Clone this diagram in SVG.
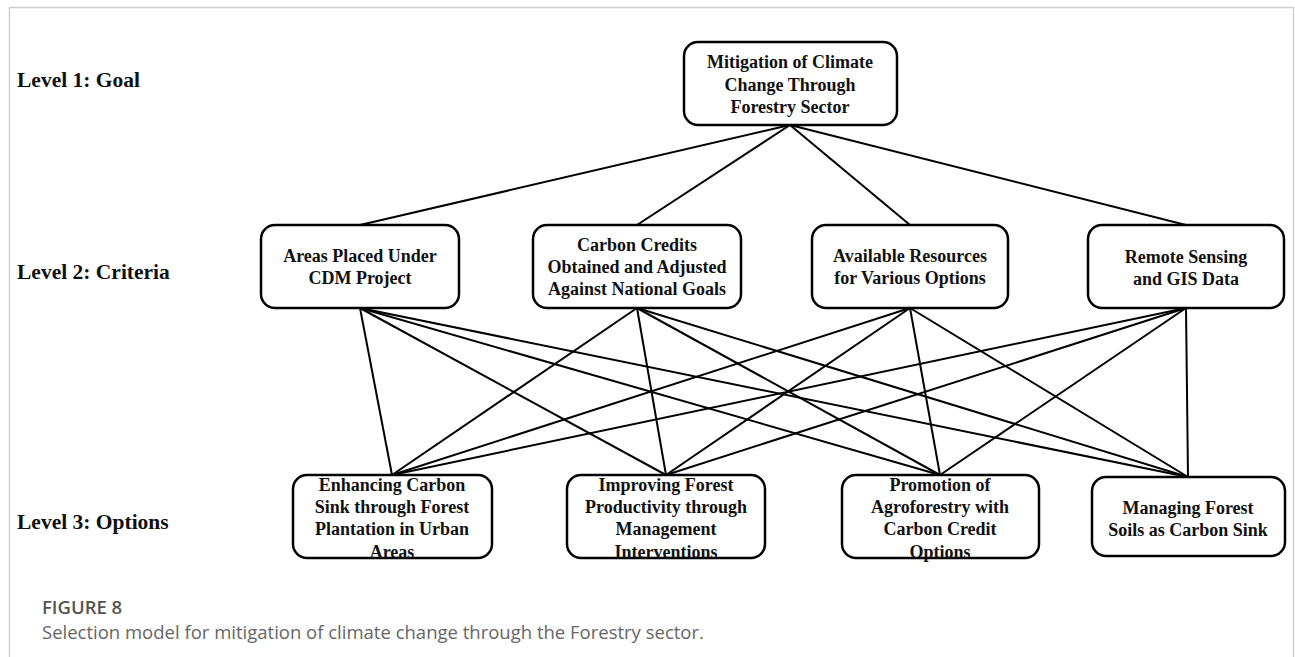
<svg xmlns="http://www.w3.org/2000/svg" width="1295" height="657" viewBox="0 0 1295 657">
<style>
.box{fill:#fff;stroke:#000;stroke-width:2.5}
.t{font-family:"Liberation Serif","Times New Roman",serif;font-weight:bold;font-size:18px;fill:#111;text-anchor:middle}
.lvl{font-family:"Liberation Serif","Times New Roman",serif;font-weight:bold;font-size:21.5px;fill:#111}
.c line{stroke:#000;stroke-width:2}
.cap1{font-family:"Open Sans","Noto Sans",sans-serif;font-size:18.5px;font-weight:600;fill:#555}
.cap2{font-family:"Open Sans","Noto Sans",sans-serif;font-size:18.5px;fill:#666}
</style>
<rect x="0" y="0" width="1295" height="657" fill="#fff"/>
<rect x="9.5" y="7.5" width="1284" height="670" fill="none" stroke="#cfcfcf" stroke-width="1.5"/>
<text class="lvl" x="17" y="87">Level 1: Goal</text>
<text class="lvl" x="17" y="279">Level 2: Criteria</text>
<text class="lvl" x="17" y="529">Level 3: Options</text>
<g class="c" id="connectors">
<line x1="790" y1="125" x2="360" y2="225"/>
<line x1="790" y1="125" x2="637" y2="225"/>
<line x1="790" y1="125" x2="910" y2="225"/>
<line x1="790" y1="125" x2="1186" y2="225"/>
<line x1="360" y1="308" x2="392" y2="475"/>
<line x1="360" y1="308" x2="666" y2="475"/>
<line x1="360" y1="308" x2="940" y2="475"/>
<line x1="360" y1="308" x2="1188" y2="477"/>
<line x1="637" y1="308" x2="392" y2="475"/>
<line x1="637" y1="308" x2="666" y2="475"/>
<line x1="637" y1="308" x2="940" y2="475"/>
<line x1="637" y1="308" x2="1188" y2="477"/>
<line x1="910" y1="308" x2="392" y2="475"/>
<line x1="910" y1="308" x2="666" y2="475"/>
<line x1="910" y1="308" x2="940" y2="475"/>
<line x1="910" y1="308" x2="1188" y2="477"/>
<line x1="1186" y1="308" x2="392" y2="475"/>
<line x1="1186" y1="308" x2="666" y2="475"/>
<line x1="1186" y1="308" x2="940" y2="475"/>
<line x1="1186" y1="308" x2="1188" y2="477"/>
</g>
<g id="goal">
<rect class="box" x="684" y="42" width="213" height="83" rx="14"/>
<text class="t" x="790" y="68">Mitigation of Climate</text>
<text class="t" x="790" y="91">Change Through</text>
<text class="t" x="790" y="113">Forestry Sector</text>
</g>
<g id="c1">
<rect class="box" x="261" y="225" width="198" height="83" rx="14"/>
<text class="t" x="360" y="262">Areas Placed Under</text>
<text class="t" x="360" y="284">CDM Project</text>
</g>
<g id="c2">
<rect class="box" x="533" y="225" width="208" height="83" rx="14"/>
<text class="t" x="637" y="251">Carbon Credits</text>
<text class="t" x="637" y="273">Obtained and Adjusted</text>
<text class="t" x="637" y="295">Against National Goals</text>
</g>
<g id="c3">
<rect class="box" x="812" y="225" width="196" height="83" rx="14"/>
<text class="t" x="910" y="262">Available Resources</text>
<text class="t" x="910" y="284">for Various Options</text>
</g>
<g id="c4">
<rect class="box" x="1088" y="225" width="196" height="83" rx="14"/>
<text class="t" x="1186" y="263">Remote Sensing</text>
<text class="t" x="1186" y="285">and GIS Data</text>
</g>
<g id="o1">
<rect class="box" x="293" y="475" width="199" height="83" rx="14"/>
<text class="t" x="392" y="491">Enhancing Carbon</text>
<text class="t" x="392" y="513">Sink through Forest</text>
<text class="t" x="392" y="535">Plantation in Urban</text>
<text class="t" x="392" y="558">Areas</text>
</g>
<g id="o2">
<rect class="box" x="567" y="475" width="198" height="83" rx="14"/>
<text class="t" x="666" y="491">Improving Forest</text>
<text class="t" x="666" y="513">Productivity through</text>
<text class="t" x="666" y="535">Management</text>
<text class="t" x="666" y="558">Interventions</text>
</g>
<g id="o3">
<rect class="box" x="842" y="475" width="197" height="83" rx="14"/>
<text class="t" x="940" y="491">Promotion of</text>
<text class="t" x="940" y="513">Agroforestry with</text>
<text class="t" x="940" y="535">Carbon Credit</text>
<text class="t" x="940" y="558">Options</text>
</g>
<g id="o4">
<rect class="box" x="1092" y="477" width="193" height="79" rx="14"/>
<text class="t" x="1188" y="514">Managing Forest</text>
<text class="t" x="1188" y="536">Soils as Carbon Sink</text>
</g>
<text class="cap1" x="42" y="614">FIGURE 8</text>
<text class="cap2" x="42" y="639">Selection model for mitigation of climate change through the Forestry sector.</text>
</svg>
